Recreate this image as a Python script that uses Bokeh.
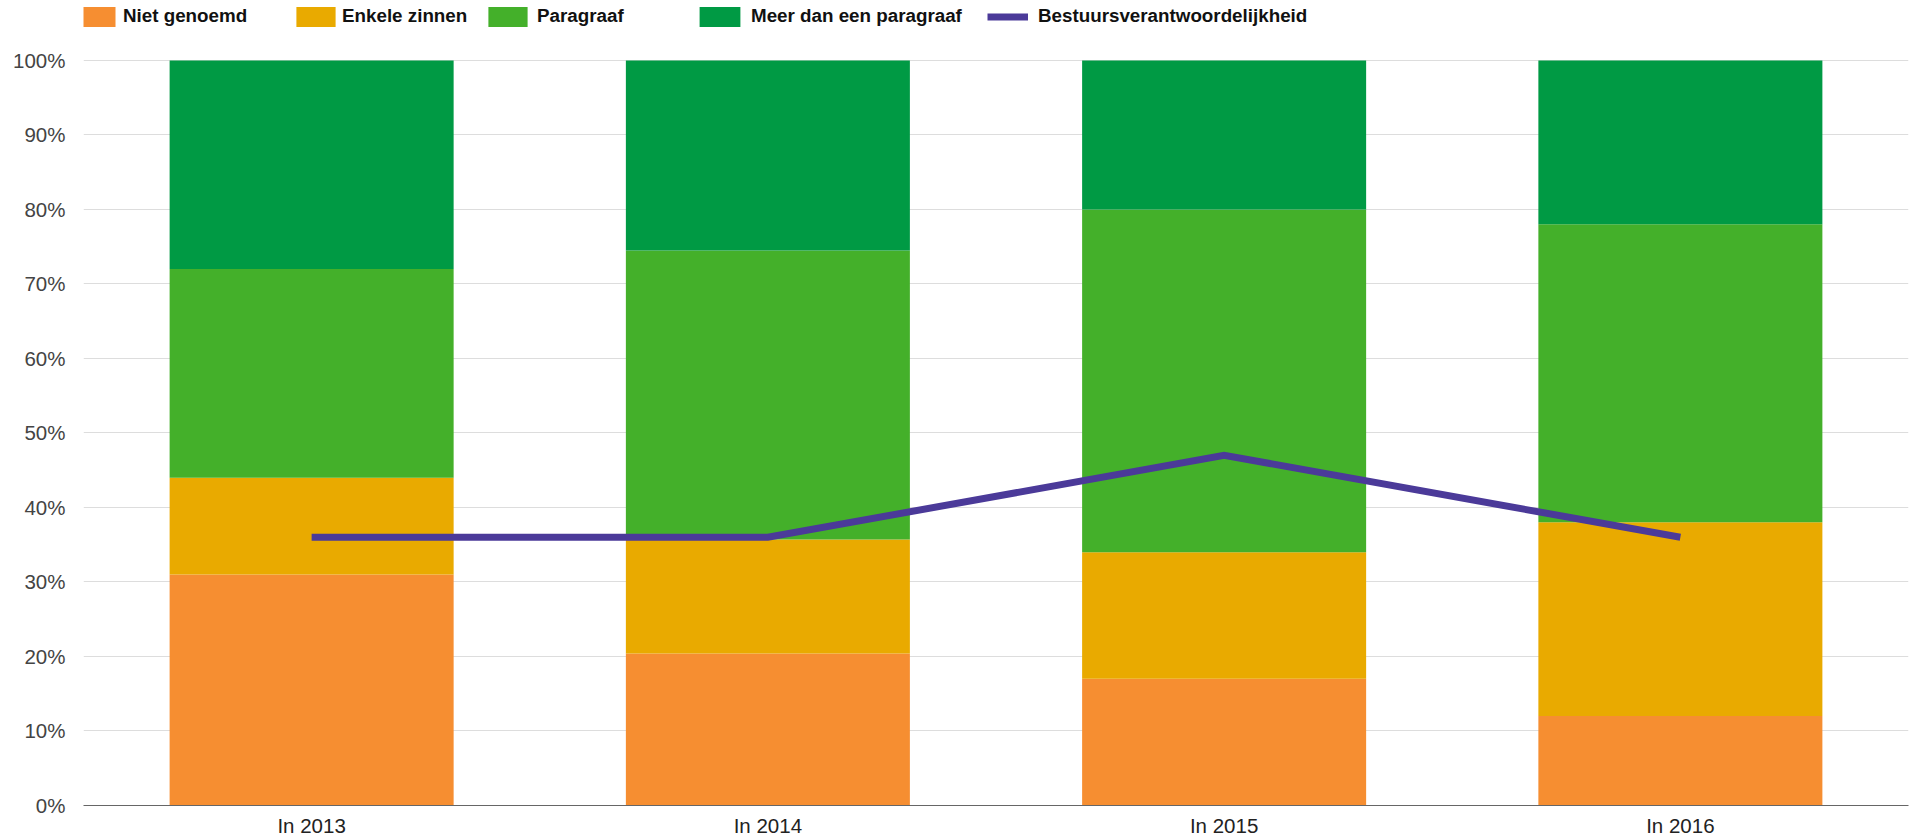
from bokeh.plotting import figure
from bokeh.models import (FactorRange, Range1d, FixedTicker, NumeralTickFormatter,
                          Legend, LegendItem)
from bokeh.embed import file_html
from bokeh.resources import INLINE

categories = ["In 2013", "In 2014", "In 2015", "In 2016"]
niet_genoemd = [0.31, 0.204, 0.17, 0.12]
enkele_zinnen = [0.13, 0.153, 0.17, 0.26]
paragraaf = [0.28, 0.388, 0.46, 0.40]
meer_dan_een = [0.28, 0.255, 0.20, 0.22]
bestuur = [0.36, 0.36, 0.47, 0.36]
y_ticks = [0.0, 0.1, 0.2, 0.3, 0.4, 0.5, 0.6, 0.7, 0.8, 0.9, 1.0]

series = ["Niet genoemd", "Enkele zinnen", "Paragraaf", "Meer dan een paragraaf"]
colors = ["#F68E31", "#E9AA00", "#44B02A", "#009A44"]
line_color = "#4B3A99"
FONT = "Liberation Sans"

data = dict(cat=categories)
data["Niet genoemd"] = niet_genoemd
data["Enkele zinnen"] = enkele_zinnen
data["Paragraaf"] = paragraaf
data["Meer dan een paragraaf"] = meer_dan_een
data["Bestuursverantwoordelijkheid"] = bestuur

p = figure(x_range=FactorRange(*categories, range_padding=0),
           y_range=Range1d(0, 806 / 746),
           width=1918, height=839,
           min_border_left=83, min_border_right=10, min_border_top=0, min_border_bottom=33,
           output_backend="svg", toolbar_location=None)

bars = p.vbar_stack(series, x="cat", width=0.6225, source=data,
                    color=colors, line_color=None)
ln = p.line(x="cat", y="Bestuursverantwoordelijkheid", source=data,
            line_color=line_color, line_width=7, line_cap="butt", line_join="miter")

p.outline_line_color = None
p.xgrid.grid_line_color = None
p.ygrid.grid_line_color = "#DDDDDD"
p.ygrid.grid_line_width = 1
p.ygrid.ticker = FixedTicker(ticks=y_ticks)

p.yaxis.ticker = FixedTicker(ticks=y_ticks)
p.yaxis.formatter = NumeralTickFormatter(format="0%")
p.yaxis.axis_line_color = None
p.yaxis.major_tick_line_color = None
p.yaxis.minor_tick_line_color = None
p.yaxis.major_tick_out = 0
p.yaxis.major_label_standoff = 18
p.yaxis.major_label_text_font = FONT
p.yaxis.major_label_text_font_size = "20.5px"
p.yaxis.major_label_text_color = "#444444"

p.xaxis.axis_line_color = "#666666"
p.xaxis.axis_line_width = 1
p.xaxis.major_tick_line_color = None
p.xaxis.minor_tick_line_color = None
p.xaxis.major_tick_out = 0
p.xaxis.major_label_standoff = 8
p.xaxis.major_label_text_font = FONT
p.xaxis.major_label_text_font_size = "20.5px"
p.xaxis.major_label_text_color = "#222222"

# legend entries: (label, renderer, glyph_width, x offset from frame left, standoff)
legend_specs = [
    (series[0], bars[0], 40, -4, 4),
    (series[1], bars[1], 49, 208, 2),
    (series[2], bars[2], 49, 400, 5),
    (series[3], bars[3], 51, 611, 6),
    ("Bestuursverantwoordelijkheid", ln, 41, 904, 10),
]
for label, r, gw, lx, so in legend_specs:
    lg = Legend(items=[LegendItem(label=label, renderers=[r])],
                location=(lx, 776.2), orientation="horizontal",
                glyph_width=gw, glyph_height=25, label_standoff=so,
                padding=0, margin=0, spacing=0,
                border_line_color=None, background_fill_alpha=0,
                label_text_font=FONT, label_text_font_size="18.8px",
                label_text_font_style="bold", label_text_color="#111111",
                label_height=25)
    p.add_layout(lg, "center")

open("out.html", "w").write(file_html(p, INLINE))
